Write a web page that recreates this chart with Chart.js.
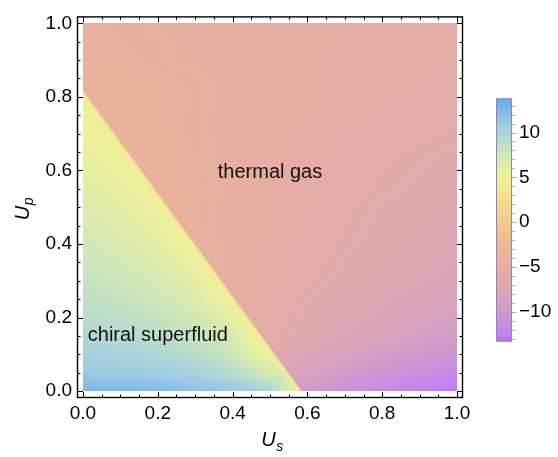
<!DOCTYPE html>
<html><head><meta charset="utf-8">
<script src="https://cdn.jsdelivr.net/npm/chart.js@4.4.1/dist/chart.umd.min.js"></script>
<style>
html,body{margin:0;padding:0;background:#fff;}
#wrap{position:relative;width:558px;height:457px;overflow:hidden;}
#main{position:absolute;left:0;top:0;}
#bar{position:absolute;left:490px;top:80px;}
</style></head><body>
<div id="wrap"><canvas id="main" width="558" height="457"></canvas><canvas id="bar" width="68" height="280"></canvas></div>
<script>
// ---------------- data ----------------
const usValues = [0,0.05,0.1,0.15,0.2,0.25,0.3,0.35,0.4,0.45,0.5,0.55,0.6,0.65,0.7,0.75,0.8,0.85,0.9,0.95,1.0];
const upValues = [0,0.05,0.1,0.15,0.2,0.25,0.3,0.35,0.4,0.45,0.5,0.55,0.6,0.65,0.7,0.75,0.8,0.85,0.9,0.95,1.0];
// field value at each (Us, Up) grid point; one row per Up value (bottom row first)
const fieldRows = [
 [12.8,12.7,12.6,12.5,12.3,12.1,11.8,11.5,11.1,10.6,9.8,7.0,-9.8,-10.4,-10.9,-11.3,-11.7,-12.1,-12.4,-12.7,-13.0],
 [11.0,10.9,10.8,10.7,10.5,10.3,10.0,9.6,9.1,8.4,7.0,-7.8,-8.5,-9.1,-9.6,-10.0,-10.4,-10.8,-11.1,-11.4,-11.7],
 [10.2,10.1,10.0,9.8,9.6,9.3,9.0,8.5,7.8,6.3,5.0,-7.0,-7.6,-8.1,-8.6,-9.0,-9.3,-9.7,-10.0,-10.3,-10.6],
 [9.6,9.5,9.3,9.1,8.9,8.6,8.2,7.7,7.0,4.8,-5.8,-6.3,-6.8,-7.2,-7.6,-8.0,-8.3,-8.6,-8.9,-9.2,-9.5],
 [9.0,8.9,8.7,8.5,8.2,7.9,7.5,7.0,5.6,-5.3,-5.7,-6.1,-6.5,-6.9,-7.2,-7.5,-7.8,-8.1,-8.4,-8.6,-8.9],
 [8.6,8.4,8.2,8.0,7.7,7.3,6.8,5.5,5.0,-5.3,-5.7,-6.0,-6.3,-6.6,-6.9,-7.2,-7.5,-7.7,-8.0,-8.2,-8.4],
 [8.2,8.0,7.8,7.5,7.2,6.8,6.2,4.7,-4.8,-5.1,-5.4,-5.7,-6.0,-6.3,-6.5,-6.8,-7.0,-7.3,-7.5,-7.7,-7.9],
 [7.8,7.6,7.4,7.1,6.7,6.2,5.0,-4.5,-4.8,-5.1,-5.4,-5.6,-5.9,-6.1,-6.4,-6.6,-6.8,-7.0,-7.2,-7.4,-7.6],
 [7.5,7.3,7.0,6.7,6.2,5.2,-4.2,-4.5,-4.8,-5.1,-5.3,-5.5,-5.8,-6.0,-6.2,-6.4,-6.6,-6.8,-7.0,-7.2,-7.4],
 [7.1,6.9,6.6,6.2,5.7,4.6,-4.3,-4.6,-4.8,-5.0,-5.3,-5.5,-5.7,-5.9,-6.1,-6.3,-6.5,-6.7,-6.8,-7.0,-7.2],
 [6.8,6.5,6.2,5.7,4.9,-4.1,-4.3,-4.6,-4.8,-5.0,-5.2,-5.4,-5.6,-5.8,-6.0,-6.2,-6.4,-6.5,-6.7,-6.8,-7.0],
 [6.4,6.1,5.7,5.0,-3.9,-4.1,-4.3,-4.5,-4.7,-4.9,-5.1,-5.3,-5.5,-5.7,-5.9,-6.0,-6.2,-6.3,-6.5,-6.6,-6.8],
 [6.0,5.7,5.3,4.5,-4.0,-4.2,-4.4,-4.6,-4.8,-5.0,-5.2,-5.3,-5.5,-5.6,-5.8,-5.9,-6.1,-6.2,-6.3,-6.5,-6.6],
 [5.6,5.3,4.7,-3.8,-4.0,-4.2,-4.4,-4.6,-4.8,-4.9,-5.1,-5.2,-5.4,-5.5,-5.7,-5.8,-5.9,-6.1,-6.2,-6.3,-6.4],
 [5.2,4.6,-3.7,-3.9,-4.1,-4.3,-4.5,-4.6,-4.8,-4.9,-5.1,-5.2,-5.3,-5.5,-5.6,-5.7,-5.8,-5.9,-6.0,-6.1,-6.2],
 [4.8,-3.6,-3.8,-4.0,-4.2,-4.3,-4.5,-4.6,-4.8,-4.9,-5.0,-5.1,-5.3,-5.4,-5.5,-5.6,-5.7,-5.8,-5.9,-6.0,-6.0],
 [4.3,-3.6,-3.8,-4.0,-4.1,-4.3,-4.4,-4.6,-4.7,-4.8,-4.9,-5.0,-5.1,-5.2,-5.3,-5.4,-5.5,-5.6,-5.7,-5.8,-5.9],
 [-3.9,-4.0,-4.1,-4.2,-4.3,-4.4,-4.5,-4.6,-4.7,-4.8,-4.9,-5.0,-5.1,-5.2,-5.3,-5.4,-5.4,-5.5,-5.6,-5.7,-5.8],
 [-4.1,-4.2,-4.3,-4.4,-4.5,-4.6,-4.6,-4.7,-4.8,-4.9,-5.0,-5.0,-5.1,-5.2,-5.3,-5.3,-5.4,-5.5,-5.5,-5.6,-5.7],
 [-4.2,-4.3,-4.4,-4.5,-4.5,-4.6,-4.7,-4.8,-4.8,-4.9,-5.0,-5.0,-5.1,-5.1,-5.2,-5.3,-5.3,-5.4,-5.4,-5.5,-5.6],
 [-4.3,-4.4,-4.4,-4.5,-4.6,-4.6,-4.7,-4.8,-4.8,-4.9,-4.9,-5.0,-5.0,-5.1,-5.1,-5.2,-5.2,-5.3,-5.3,-5.4,-5.5]
];
// phase boundary (chiral superfluid for Us below boundaryUs at a given Up)
const boundaryUp = [0,0.05,0.1,0.15,0.2,0.25,0.3,0.35,0.4,0.45,0.5,0.55,0.6,0.65,0.7,0.75,0.816];
const boundaryUs = [0.584,0.548,0.512,0.477,0.441,0.405,0.369,0.334,0.298,0.262,0.226,0.190,0.155,0.119,0.083,0.047,0];
// value on the superfluid side right at the boundary
const boundarySfValue = [4.6,4.4,4.2,4.0,4.0,4.0,4.0,4.0,4.0,4.0,4.0,4.0,4.0,4.0,4.0,4.0,4.0];
const xTickValues = [0,0.2,0.4,0.6,0.8,1.0];
const yTickValues = [0,0.2,0.4,0.6,0.8,1.0];
const colorTickValues = [-10,-5,0,5,10];
const colorRange = [-13.3, 13.8];
const regionLabels = ['thermal gas','chiral superfluid'];
const regionLabelUs = [0.5, 0.2];
const regionLabelUp = [0.595, 0.15];

// ---------------- colour scale ----------------
const colorStops = [[-13.3,'#b96fec'],[-12.5,'#c080f0'],[-11.5,'#c88ce4'],[-10,'#d098cd'],[-8.5,'#d8a1bd'],[-7,'#dea8b0'],[-5.5,'#e4aca5'],[-4,'#e8b29b'],[-2,'#edbc93'],[0,'#f2c98f'],[2,'#f4d98e'],[3.5,'#f3e793'],[5,'#eff09b'],[6,'#e6eea3'],[7,'#d9eaaf'],[8,'#c9e4bd'],[9,'#b9dccb'],[10,'#a9d2dc'],[11,'#9bc9e3'],[12.5,'#80b9e8'],[13.8,'#6aaeea']];
const stopRGB = colorStops.map(([v,h]) => [v, parseInt(h.slice(1,3),16), parseInt(h.slice(3,5),16), parseInt(h.slice(5,7),16)]);
function colorFor(v){
  if (v <= stopRGB[0][0]) return stopRGB[0].slice(1);
  for (let k=1;k<stopRGB.length;k++){
    if (v <= stopRGB[k][0]){
      const a=stopRGB[k-1], b=stopRGB[k], t=(v-a[0])/(b[0]-a[0]);
      return [a[1]+(b[1]-a[1])*t, a[2]+(b[2]-a[2])*t, a[3]+(b[3]-a[3])*t];
    }
  }
  return stopRGB[stopRGB.length-1].slice(1);
}
function lerpArr(xs, ys, x){
  if (x <= xs[0]) return ys[0];
  for (let k=1;k<xs.length;k++) if (x <= xs[k]) { const t=(x-xs[k-1])/(xs[k]-xs[k-1]); return ys[k-1]+(ys[k]-ys[k-1])*t; }
  return ys[ys.length-1];
}
function boundaryAt(up){ return up > boundaryUp[boundaryUp.length-1] ? -1 : lerpArr(boundaryUp, boundaryUs, up); }
function edgeSfAt(up){ return lerpArr(boundaryUp, boundarySfValue, up); }
const gridSf = upValues.map(up => usValues.map(us => us < boundaryAt(up)));
function cellIndex(arr, v){ let k=0; while (k < arr.length-2 && v > arr[k+1]) k++; return k; }
function interp(us, up, sf){
  const i = cellIndex(usValues, us), j = cellIndex(upValues, up);
  const fx = Math.min(1,Math.max(0,(us-usValues[i])/(usValues[i+1]-usValues[i])));
  const fy = Math.min(1,Math.max(0,(up-upValues[j])/(upValues[j+1]-upValues[j])));
  const cs = [[i,j,(1-fx)*(1-fy)],[i+1,j,fx*(1-fy)],[i,j+1,(1-fx)*fy],[i+1,j+1,fx*fy]];
  let s=0,w=0;
  for (const [a,b,wt] of cs) if (gridSf[b][a]===sf){ s+=wt*fieldRows[b][a]; w+=wt; }
  if (w > 1e-6) return s/w;
  s=0; w=0;
  const n = usValues.length-1, m = upValues.length-1;
  for (let b=Math.max(0,j-2); b<=Math.min(m,j+3); b++) for (let a=Math.max(0,i-2); a<=Math.min(n,i+3); a++){
    if (gridSf[b][a]!==sf) continue;
    const d2=(usValues[a]-us)**2+(upValues[b]-up)**2+1e-9, wt=1/(d2*d2);
    s+=wt*fieldRows[b][a]; w+=wt;
  }
  return w>0 ? s/w : (sf?5:-5);
}
const smooth = t => t>=1 ? 1 : t*t*(3-2*t);

const FONT = 'Liberation Sans, Arial, sans-serif';

const heatmapPlugin = {
  id:'heatmap',
  beforeDatasetsDraw(chart){
    const {ctx, scales:{x, y}} = chart;
    const x0=Math.round(x.getPixelForValue(usValues[0])), x1=Math.round(x.getPixelForValue(usValues[usValues.length-1]));
    const y0=Math.round(y.getPixelForValue(upValues[upValues.length-1])), y1=Math.round(y.getPixelForValue(upValues[0]));
    const w=x1-x0, h=y1-y0;
    const img=ctx.createImageData(w,h);
    const pxPerUs=Math.abs(x.getPixelForValue(1)-x.getPixelForValue(0));
    for (let py=0; py<h; py++){
      const up=y.getValueForPixel(y0+py+0.5);
      const b=boundaryAt(up), e=edgeSfAt(up);
      for (let px=0; px<w; px++){
        const us=x.getValueForPixel(x0+px+0.5);
        const d=(b-us)*pxPerUs*0.81;
        const sfCol=()=>{ const v=interp(us,up,true); return colorFor(e+(v-e)*smooth(Math.max(0,d)/7)); };
        const tgCol=()=>colorFor(interp(us,up,false));
        let c;
        if (b<0 || d<-1.2) c=tgCol();
        else if (d>1.2) c=sfCol();
        else { const a=(d+1.2)/2.4, c1=sfCol(), c2=tgCol(); c=[c2[0]+(c1[0]-c2[0])*a, c2[1]+(c1[1]-c2[1])*a, c2[2]+(c1[2]-c2[2])*a]; }
        const o=(py*w+px)*4;
        img.data[o]=c[0]; img.data[o+1]=c[1]; img.data[o+2]=c[2]; img.data[o+3]=255;
      }
    }
    ctx.putImageData(img,x0,y0);
  },
  afterDatasetsDraw(chart){
    const {ctx, scales:{x, y}} = chart;
    ctx.save();
    ctx.fillStyle='#111'; ctx.font='20px '+FONT; ctx.textAlign='center'; ctx.textBaseline='middle';
    regionLabels.forEach((t,k)=>ctx.fillText(t, x.getPixelForValue(regionLabelUs[k]), y.getPixelForValue(regionLabelUp[k])));
    ctx.restore();
  }
};

const framePlugin = {
  id:'frame',
  afterDraw(chart){
    const {ctx, chartArea:a, scales:{x, y}} = chart;
    ctx.save();
    ctx.strokeStyle='#000'; ctx.lineWidth=1.4;
    ctx.strokeRect(a.left+0.5, a.top+0.5, a.right-a.left-1, a.bottom-a.top-1);
    ctx.lineWidth=1;
    const minor = (ticks)=>{ const out=[]; for(let k=0;k<ticks.length-1;k++){ for(let q=1;q<4;q++) out.push(ticks[k]+(ticks[k+1]-ticks[k])*q/4);} return out; };
    const draw=(vals,len)=>{
      vals.forEach(v=>{
        const px=Math.round(x.getPixelForValue(v))+0.5;
        ctx.beginPath(); ctx.moveTo(px,a.bottom); ctx.lineTo(px,a.bottom-len); ctx.stroke();
        ctx.beginPath(); ctx.moveTo(px,a.top); ctx.lineTo(px,a.top+len); ctx.stroke();
      });
    };
    const drawY=(vals,len)=>{
      vals.forEach(v=>{
        const py=Math.round(y.getPixelForValue(v))+0.5;
        ctx.beginPath(); ctx.moveTo(a.left,py); ctx.lineTo(a.left+len,py); ctx.stroke();
        ctx.beginPath(); ctx.moveTo(a.right,py); ctx.lineTo(a.right-len,py); ctx.stroke();
      });
    };
    draw(xTickValues,6); draw(minor(xTickValues),3.5);
    drawY(yTickValues,6); drawY(minor(yTickValues),3.5);
    // axis titles
    ctx.fillStyle='#000'; ctx.textBaseline='alphabetic'; ctx.textAlign='left';
    const cx=(a.left+a.right)/2+2;
    ctx.font='italic 20px '+FONT;
    const wU=ctx.measureText('U').width;
    ctx.font='italic 14px '+FONT;
    const wS=ctx.measureText('s').width;
    let sx=cx-(wU+wS)/2;
    ctx.font='italic 20px '+FONT; ctx.fillText('U', sx, 446);
    ctx.font='italic 14px '+FONT; ctx.fillText('s', sx+wU+0.5, 451);
    ctx.save();
    ctx.translate(29, (a.top+a.bottom)/2+2); ctx.rotate(-Math.PI/2);
    ctx.font='italic 14px '+FONT; const wP=ctx.measureText('p').width;
    sx=-(wU+wP)/2;
    ctx.font='italic 20px '+FONT; ctx.fillText('U', sx, 0);
    ctx.font='italic 14px '+FONT; ctx.fillText('p', sx+wU+0.5, 4);
    ctx.restore();
    ctx.restore();
  }
};

const gridPoints = [];
upValues.forEach((up,j)=>usValues.forEach((us,i)=>gridPoints.push({x:us, y:up, v:fieldRows[j][i]})));

const tickFont = {family:FONT, size:19};
new Chart(document.getElementById('main'), {
  type:'scatter',
  data:{datasets:[{data:gridPoints, pointRadius:0, pointHoverRadius:0}]},
  options:{
    responsive:false, animation:false, events:[],
    layout:{padding:{top:9, right:95, left:0, bottom:0}},
    plugins:{legend:{display:false}, tooltip:{enabled:false}},
    scales:{
      x:{type:'linear', min:-0.016, max:1.016, grid:{display:false, drawTicks:false}, border:{display:false},
         afterBuildTicks:s=>{ s.ticks=xTickValues.map(v=>({value:v})); },
         afterFit:s=>{ s.height=59; },
         ticks:{font:tickFont, color:'#000', padding:4, autoSkip:false, maxRotation:0, callback:v=>Number(v).toFixed(1)}},
      y:{type:'linear', min:-0.0187, max:1.0187, grid:{display:false, drawTicks:false}, border:{display:false},
         afterBuildTicks:s=>{ s.ticks=yTickValues.map(v=>({value:v})); },
         afterFit:s=>{ s.width=77; },
         ticks:{font:tickFont, color:'#000', padding:5, autoSkip:false, callback:v=>Number(v).toFixed(1)}}
    }
  },
  plugins:[heatmapPlugin, framePlugin]
});

const colorbarPlugin = {
  id:'colorbar',
  beforeDatasetsDraw(chart){
    const {ctx, chartArea:a, scales:{y}} = chart;
    const g=ctx.createLinearGradient(0, y.getPixelForValue(colorRange[0]), 0, y.getPixelForValue(colorRange[1]));
    colorStops.forEach(([v,hex])=>g.addColorStop((v-colorRange[0])/(colorRange[1]-colorRange[0]), hex));
    ctx.save();
    ctx.fillStyle=g; ctx.fillRect(a.left, a.top, a.right-a.left, a.bottom-a.top);
    ctx.strokeStyle='#8f86a8'; ctx.lineWidth=1;
    ctx.strokeRect(a.left+0.5, a.top+0.5, a.right-a.left-1, a.bottom-a.top-1);
    ctx.strokeStyle='#b0b0b0';
    for (let v=Math.ceil(colorRange[0]); v<=colorRange[1]; v++){
      const py=Math.round(y.getPixelForValue(v))+0.5, len = v%5===0 ? 5 : 3;
      ctx.beginPath(); ctx.moveTo(a.right, py); ctx.lineTo(a.right+len, py); ctx.stroke();
    }
    ctx.restore();
  }
};
new Chart(document.getElementById('bar'), {
  type:'scatter',
  data:{datasets:[{data:[], pointRadius:0}]},
  options:{
    responsive:false, animation:false, events:[],
    layout:{padding:{left:6, top:12, bottom:12, right:0}},
    plugins:{legend:{display:false}, tooltip:{enabled:false}},
    scales:{
      x:{display:false, min:0, max:1},
      y:{position:'right', min:colorRange[0], max:colorRange[1], grid:{display:false, drawTicks:false}, border:{display:false},
         afterBuildTicks:s=>{ s.ticks=colorTickValues.map(v=>({value:v})); },
         afterFit:s=>{ s.width=46; },
         ticks:{font:tickFont, color:'#000', padding:7, autoSkip:false, callback:v=> v<0 ? '\u2212'+Math.abs(v) : String(v)}}
    }
  },
  plugins:[colorbarPlugin]
});
</script>
</body></html>
